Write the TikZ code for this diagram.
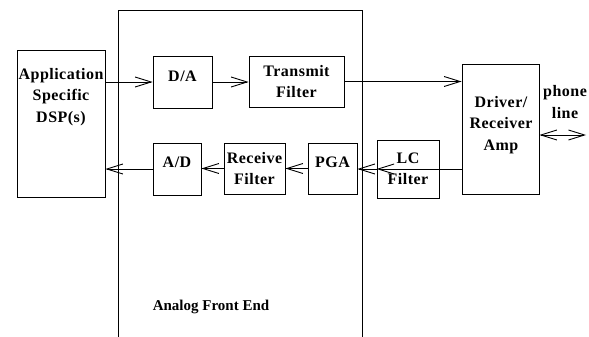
\documentclass[tikz,border=0pt]{standalone}
\usepackage{fontspec}
\setmainfont{Liberation Serif}[LetterSpace=3]
\newfontfamily\plainserif{Liberation Serif}
\usetikzlibrary{arrows.meta,calc}
\begin{document}
\begin{tikzpicture}[x=1pt,y=-1pt,
  every node/.style={font=\bfseries\fontsize{16}{21.5}\selectfont, align=center, inner sep=0pt},
  blk/.style={draw, line width=0.8pt, rectangle},
  tip/.tip={Straight Barb[length=16pt,width=10pt,line width=0.9pt]},
  conn/.style={line width=0.8pt, -tip},
  dconn/.style={line width=0.8pt, tip-tip}]
\useasboundingbox (0,0) rectangle (589,337);
% Analog front end enclosure
\draw[line width=0.8pt] (118,337) -- (118,10) -- (362,10) -- (362,337);
\node[font=\plainserif\bfseries\fontsize{15}{18}\selectfont] (afe) at (211,307) {Analog Front End};
% blocks
\node[blk, minimum width=88pt, minimum height=147pt] (dsp) at (61,123.5) {};
\node (dsptxt) at (61,97) {Application\\Specific\\DSP(s)};
\node[blk, minimum width=59pt, minimum height=52pt] (da) at (182.5,82) {};
\node (datxt) at (182.5,76) {D/A};
\node[blk, minimum width=95pt, minimum height=51pt] (tf) at (296.5,81.5) {Transmit\\Filter};
\node[blk, minimum width=48pt, minimum height=52pt] (ad) at (177,169) {};
\node (adtxt) at (177,162) {A/D};
\node[blk, minimum width=61pt, minimum height=51pt] (rf) at (254.5,168.5) {Receive\\Filter};
\node[blk, minimum width=49pt, minimum height=51pt] (pga) at (332.5,168.5) {};
\node (pgatxt) at (332.5,162) {PGA};
\node[blk, minimum width=62pt, minimum height=58pt] (lc) at (408,169) {LC\\Filter};
\node[blk, minimum width=77pt, minimum height=130pt] (drv) at (500.5,129) {};
\node (drvtxt) at (501,125) {Driver/\\Receiver\\Amp};
\node (phone) at (565,102) {phone\\line};
\coordinate (line) at (586,135);
% connectors
\draw[conn] (dsp.east |- da.west) -- (da.west);
\draw[conn] (da.east) -- (da.east -| tf.west);
\draw[conn] (tf.east) -- (tf.east -| drv.west);
\draw[conn] (drv.west |- lc.west) -- (lc.west);
\draw[conn] (lc.west) -- (lc.west -| pga.east);
\draw[conn] (pga.west) -- (pga.west -| rf.east);
\draw[conn] (rf.west) -- (rf.west -| ad.east);
\draw[conn] (ad.west) -- (ad.west -| dsp.east);
\draw[dconn] (drv.east |- line) -- (line);
\end{tikzpicture}
\end{document}
